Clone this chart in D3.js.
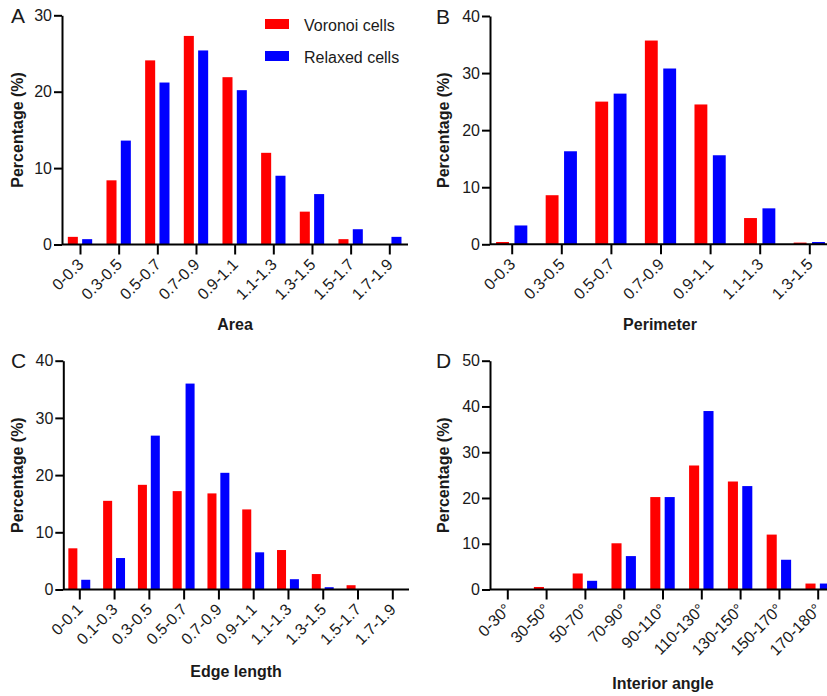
<!DOCTYPE html>
<meta charset="utf-8">
<script src="https://cdn.jsdelivr.net/npm/d3@7"></script>
<style>
body { margin: 0; background: #fff; }
svg text { font-family: "Liberation Sans", Arial, sans-serif; fill: #1a1a1a; }
.axis path, .axis line { stroke: #000; stroke-width: 2; }
.axis text { font-size: 16px; }
.title { font-size: 16px; font-weight: bold; }
.letter { font-size: 21px; }
</style>
<body>
<script>

// Series names and colours
var series = ["Voronoi cells", "Relaxed cells"];
var colors = ["#ff0000", "#0000ff"];

// A: Area
var areaCats = ["0-0.3", "0.3-0.5", "0.5-0.7", "0.7-0.9", "0.9-1.1", "1.1-1.3", "1.3-1.5", "1.5-1.7", "1.7-1.9"];
var areaVoronoi = [1.0, 8.4, 24.1, 27.3, 21.9, 12.0, 4.3, 0.7, 0];
var areaRelaxed = [0.7, 13.6, 21.2, 25.4, 20.2, 9.0, 6.6, 2.0, 1.0];
var areaTicks = [0, 10, 20, 30];

// B: Perimeter
var perimCats = ["0-0.3", "0.3-0.5", "0.5-0.7", "0.7-0.9", "0.9-1.1", "1.1-1.3", "1.3-1.5"];
var perimVoronoi = [0.4, 8.6, 25.0, 35.7, 24.5, 4.6, 0.3];
var perimRelaxed = [3.3, 16.3, 26.4, 30.8, 15.6, 6.3, 0.4];
var perimTicks = [0, 10, 20, 30, 40];

// C: Edge length
var edgeCats = ["0-0.1", "0.1-0.3", "0.3-0.5", "0.5-0.7", "0.7-0.9", "0.9-1.1", "1.1-1.3", "1.3-1.5", "1.5-1.7", "1.7-1.9"];
var edgeVoronoi = [7.2, 15.5, 18.3, 17.2, 16.8, 14.0, 6.9, 2.7, 0.75, 0];
var edgeRelaxed = [1.7, 5.5, 26.9, 36.0, 20.4, 6.5, 1.8, 0.4, 0.05, 0];
var edgeTicks = [0, 10, 20, 30, 40];

// D: Interior angle
var angleCats = ["0-30°", "30-50°", "50-70°", "70-90°", "90-110°", "110-130°", "130-150°", "150-170°", "170-180°"];
var angleVoronoi = [0, 0.55, 3.5, 10.1, 20.2, 27.1, 23.6, 12.0, 1.3];
var angleRelaxed = [0, 0, 1.9, 7.3, 20.2, 39.0, 22.6, 6.5, 1.3];
var angleTicks = [0, 10, 20, 30, 40, 50];

var svg = d3.select("body").append("svg")
    .attr("width", 827)
    .attr("height", 696);

// draw one grouped bar panel
function panel(p) {
  var g = svg.append("g");

  var y = d3.scaleLinear()
      .domain([0, d3.max(p.ticks)])
      .range([p.y0, p.y1]);

  var x = d3.scalePoint()
      .domain(p.cats)
      .range([p.xFirst, p.xLast]);

  var step = x.step();
  var xSub = d3.scaleBand()
      .domain(series)
      .range([-0.315 * step, 0.315 * step])
      .paddingInner(0.3);

  // bars
  var rows = p.cats.map(function(c, i) {
    return {cat: c, values: [p.v1[i], p.v2[i]]};
  });
  g.selectAll(".grp")
      .data(rows)
    .enter().append("g")
      .attr("transform", function(d) { return "translate(" + x(d.cat) + ",0)"; })
    .selectAll("rect")
      .data(function(d) { return d.values.map(function(v, j) { return {s: series[j], v: v, c: colors[j]}; }); })
    .enter().append("rect")
      .attr("x", function(d) { return xSub(d.s); })
      .attr("width", xSub.bandwidth())
      .attr("y", function(d) { return y(d.v); })
      .attr("height", function(d) { return p.y0 - y(d.v); })
      .attr("fill", function(d) { return d.c; });

  // x axis line
  g.append("line")
      .attr("x1", p.xAxis).attr("x2", p.xEnd)
      .attr("y1", p.y0).attr("y2", p.y0)
      .attr("stroke", "#000").attr("stroke-width", 2);

  // x ticks and rotated labels
  var xa = g.append("g")
      .attr("class", "axis")
      .attr("transform", "translate(0," + p.y0 + ")")
      .call(d3.axisBottom(x).tickSize(10));
  xa.select(".domain").remove();
  xa.selectAll("text")
      .attr("y", null)
      .attr("dy", null)
      .attr("text-anchor", "end")
      .attr("transform", "translate(4,21) rotate(-45)");

  // y axis
  var ya = g.append("g")
      .attr("class", "axis")
      .attr("transform", "translate(" + p.xAxis + ",0)")
      .call(d3.axisLeft(y).tickValues(p.ticks).tickSize(8).tickSizeOuter(0).tickPadding(2));

  // y title
  g.append("text")
      .attr("class", "title")
      .attr("text-anchor", "middle")
      .attr("transform", "translate(" + p.yTitleX + "," + ((p.y0 + p.y1) / 2) + ") rotate(-90)")
      .text("Percentage (%)");

  // x title
  g.append("text")
      .attr("class", "title")
      .attr("text-anchor", "middle")
      .attr("x", p.xTitleX)
      .attr("y", p.xTitleY)
      .text(p.title);

  // panel letter
  g.append("text")
      .attr("class", "letter")
      .attr("x", p.letterX)
      .attr("y", p.letterY)
      .text(p.letter);
}

panel({letter: "A", title: "Area", cats: areaCats, v1: areaVoronoi, v2: areaRelaxed, ticks: areaTicks,
       xAxis: 62, xEnd: 408, xFirst: 80, xLast: 389.3, y0: 244.5, y1: 15.3,
       yTitleX: 23, xTitleX: 235, xTitleY: 330, letterX: 11, letterY: 23});

panel({letter: "B", title: "Perimeter", cats: perimCats, v1: perimVoronoi, v2: perimRelaxed, ticks: perimTicks,
       xAxis: 490, xEnd: 830, xFirst: 511.7, xLast: 809.3, y0: 244.3, y1: 16,
       yTitleX: 449, xTitleX: 660, xTitleY: 330, letterX: 436, letterY: 24});

panel({letter: "C", title: "Edge length", cats: edgeCats, v1: edgeVoronoi, v2: edgeRelaxed, ticks: edgeTicks,
       xAxis: 63.3, xEnd: 409, xFirst: 79.3, xLast: 392.3, y0: 589.5, y1: 360.7,
       yTitleX: 23, xTitleX: 236, xTitleY: 677, letterX: 11, letterY: 368});

panel({letter: "D", title: "Interior angle", cats: angleCats, v1: angleVoronoi, v2: angleRelaxed, ticks: angleTicks,
       xAxis: 490, xEnd: 830, xFirst: 507.3, xLast: 817.7, y0: 589.5, y1: 360.7,
       yTitleX: 449, xTitleX: 663, xTitleY: 689, letterX: 436, letterY: 368});

// legend (panel A)
var legend = svg.append("g")
    .selectAll("g")
    .data(series)
  .enter().append("g")
    .attr("transform", function(d, i) { return "translate(265," + (19 + i * 32) + ")"; });

legend.append("rect")
    .attr("width", 24)
    .attr("height", 10)
    .attr("fill", function(d, i) { return colors[i]; });

legend.append("text")
    .attr("x", 39)
    .attr("y", 12)
    .style("font-size", "16px")
    .text(function(d) { return d; });

</script>
</body>
</html>
